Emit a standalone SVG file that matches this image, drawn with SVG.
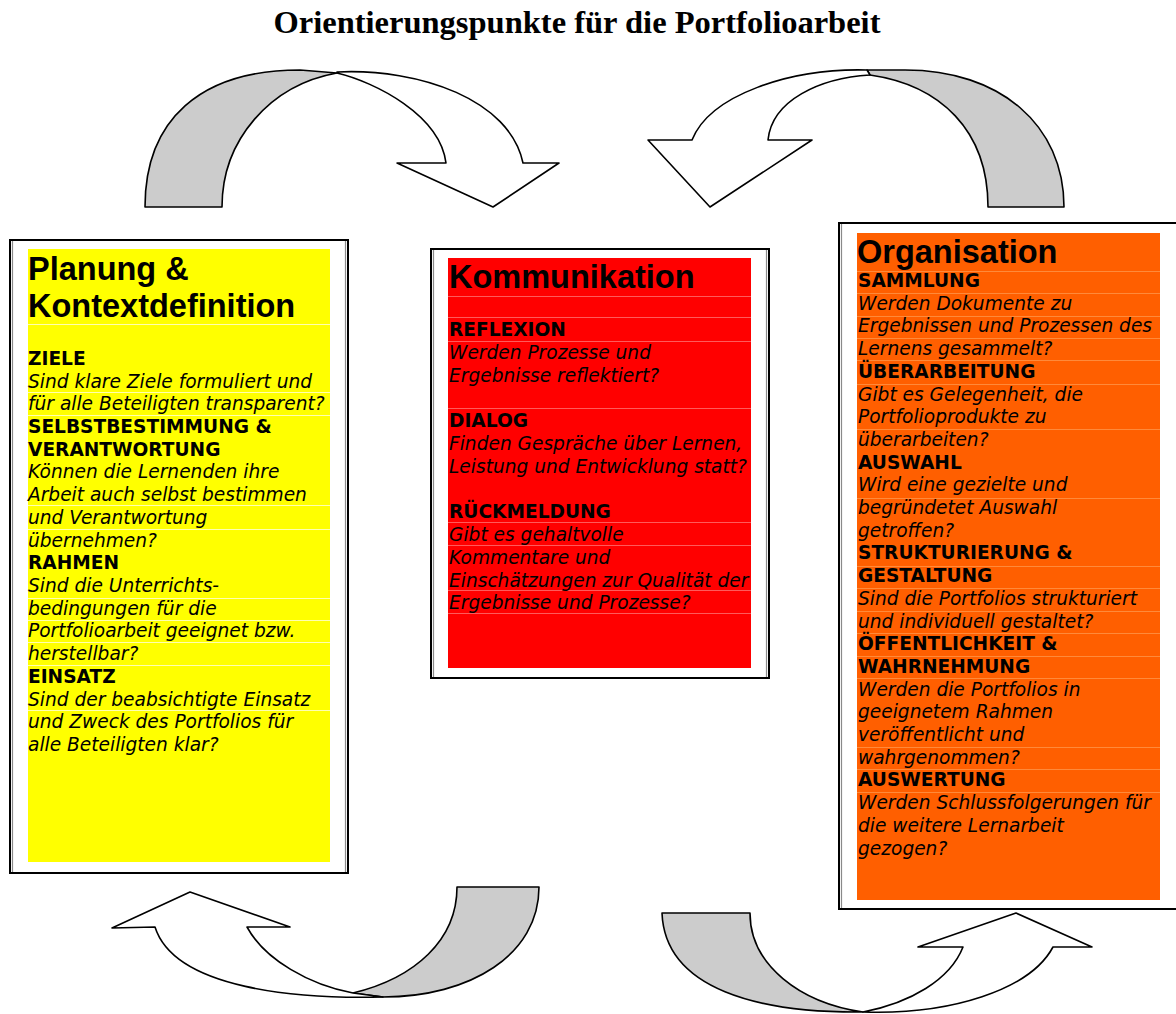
<svg xmlns="http://www.w3.org/2000/svg" width="1176" height="1014" viewBox="0 0 1176 1014">
<style>
.frame{fill:#fff;stroke:#000;stroke-width:2}
.edge{stroke:#8a8a8a;stroke-width:1.2}
.back{fill:#cccccc;stroke:#000;stroke-width:1.6;stroke-linejoin:round}
.front{fill:#fff;stroke:#000;stroke-width:1.6;stroke-linejoin:round}
.ttl{font-family:"Liberation Sans",Arial,sans-serif;font-weight:bold;font-size:32.5px;fill:#000}
.hd{font-family:"DejaVu Sans",Verdana,sans-serif;font-weight:bold;font-size:18.6px;fill:#000}
.q{font-family:"DejaVu Sans",Verdana,sans-serif;font-style:italic;font-size:18.6px;fill:#000}
.rowy{stroke:#ffffb0;stroke-width:1}
.rowr{stroke:#ff5a5a;stroke-width:1}
.rowo{stroke:#ff8a3a;stroke-width:1}
</style>
<rect width="1176" height="1014" fill="#fff"/>
<text x="577" y="33" text-anchor="middle" font-family="'Liberation Serif','Times New Roman',serif" font-weight="bold" font-size="32.5">Orientierungspunkte für die Portfolioarbeit</text>

<g id="connectors">
  <g id="arrow-top-left">
    <path class="back" d="M145,207 C145,120 200,70 300,70 L337,73 C270,85 222,140 222,207 Z"/>
    <path class="front" d="M337,72 C420,68 510,100 523,163 L559,163 L493,207 L397,163 L446,163 C440,115 375,82 337,73 Z"/>
  </g>
  <g id="arrow-top-right">
    <path class="back" d="M1064,207 C1064,125 1000,70 905,70 L867,70 L870,75 C940,85 988,130 988,207 Z"/>
    <path class="front" d="M867,70 C790,68 710,95 692,140 L648,140 L710,207 L812,140 L768,140 C772,100 820,78 870,75 Z"/>
  </g>
  <g id="arrow-bottom-left">
    <path class="back" d="M457,887 L539,887 C539,955 470,997 383,997 L353,993 C415,978 457,940 457,887 Z"/>
    <path class="front" d="M383,997 C300,999 175,990 155,927 L112,928 L190,892 L290,927 L247,927 C265,960 310,985 353,993 Z"/>
  </g>
  <g id="arrow-bottom-right">
    <path class="back" d="M662,913 L750,913 C750,965 800,1003 863,1012 C760,1013 665,990 662,913 Z"/>
    <path class="front" d="M863,1012 C950,1015 1030,990 1053,947 L1092,947 L1016,913 L918,947 L963,947 C950,980 910,1003 863,1012 Z"/>
  </g>
</g>

<g id="node-planung">
  <rect class="frame" x="10" y="240" width="338" height="633"/>
  <line class="edge" x1="12.5" y1="241" x2="12.5" y2="872"/>
  <line class="edge" x1="345.5" y1="241" x2="345.5" y2="872"/>
  <rect x="28" y="249" width="302" height="613" fill="#ffff00"/>
  <g class="rowy">
    <line x1="28" y1="324.5" x2="330" y2="324.5"/>
    <line x1="28" y1="392.5" x2="330" y2="392.5"/>
    <line x1="28" y1="415.5" x2="330" y2="415.5"/>
    <line x1="28" y1="505.5" x2="330" y2="505.5"/>
    <line x1="28" y1="529.5" x2="330" y2="529.5"/>
    <line x1="28" y1="598.5" x2="330" y2="598.5"/>
    <line x1="28" y1="620.5" x2="330" y2="620.5"/>
    <line x1="28" y1="642.5" x2="330" y2="642.5"/>
    <line x1="28" y1="665.5" x2="330" y2="665.5"/>
    <line x1="28" y1="710.5" x2="330" y2="710.5"/>
  </g>
  <text class="ttl" x="28" y="280">Planung &amp;</text>
  <text class="ttl" x="28" y="317">Kontextdefinition</text>
  <text class="hd" x="28" y="365">ZIELE</text>
  <text class="q" x="28" y="388">Sind klare Ziele formuliert und</text>
  <text class="q" x="28" y="410">für alle Beteiligten transparent?</text>
  <text class="hd" x="28" y="433">SELBSTBESTIMMUNG &amp;</text>
  <text class="hd" x="28" y="456">VERANTWORTUNG</text>
  <text class="q" x="28" y="478">Können die Lernenden ihre</text>
  <text class="q" x="28" y="501">Arbeit auch selbst bestimmen</text>
  <text class="q" x="28" y="524">und Verantwortung</text>
  <text class="q" x="28" y="547">übernehmen?</text>
  <text class="hd" x="28" y="569">RAHMEN</text>
  <text class="q" x="28" y="592">Sind die Unterrichts-</text>
  <text class="q" x="28" y="615">bedingungen für die</text>
  <text class="q" x="28" y="637">Portfolioarbeit geeignet bzw.</text>
  <text class="q" x="28" y="660">herstellbar?</text>
  <text class="hd" x="28" y="683">EINSATZ</text>
  <text class="q" x="28" y="706">Sind der beabsichtigte Einsatz</text>
  <text class="q" x="28" y="728">und Zweck des Portfolios für</text>
  <text class="q" x="28" y="751">alle Beteiligten klar?</text>
</g>

<g id="node-kommunikation">
  <rect class="frame" x="431" y="249" width="338" height="429"/>
  <line class="edge" x1="433.5" y1="250" x2="433.5" y2="677"/>
  <line class="edge" x1="766.5" y1="250" x2="766.5" y2="677"/>
  <rect x="448" y="258" width="303" height="410" fill="#ff0000"/>
  <g class="rowr">
    <line x1="448" y1="296.5" x2="751" y2="296.5"/>
    <line x1="448" y1="317.5" x2="751" y2="317.5"/>
    <line x1="448" y1="341.5" x2="751" y2="341.5"/>
    <line x1="448" y1="408.5" x2="751" y2="408.5"/>
    <line x1="448" y1="522.5" x2="751" y2="522.5"/>
    <line x1="448" y1="545.5" x2="751" y2="545.5"/>
    <line x1="448" y1="590.5" x2="751" y2="590.5"/>
    <line x1="448" y1="613.5" x2="751" y2="613.5"/>
  </g>
  <text class="ttl" x="449" y="288">Kommunikation</text>
  <text class="hd" x="449" y="336">REFLEXION</text>
  <text class="q" x="449" y="359">Werden Prozesse und</text>
  <text class="q" x="449" y="382">Ergebnisse reflektiert?</text>
  <text class="hd" x="449" y="427">DIALOG</text>
  <text class="q" x="449" y="450">Finden Gespräche über Lernen,</text>
  <text class="q" x="449" y="473">Leistung und Entwicklung statt?</text>
  <text class="hd" x="449" y="518">RÜCKMELDUNG</text>
  <text class="q" x="449" y="541">Gibt es gehaltvolle</text>
  <text class="q" x="449" y="564">Kommentare und</text>
  <text class="q" x="449" y="587">Einschätzungen zur Qualität der</text>
  <text class="q" x="449" y="609">Ergebnisse und Prozesse?</text>
</g>

<g id="node-organisation">
  <rect class="frame" x="839" y="223" width="340" height="686"/>
  <line class="edge" x1="841.5" y1="224" x2="841.5" y2="908"/>
  <rect x="857" y="233" width="303" height="667" fill="#ff5f00"/>
  <g class="rowo">
    <line x1="857" y1="271.5" x2="1160" y2="271.5"/>
    <line x1="857" y1="293.5" x2="1160" y2="293.5"/>
    <line x1="857" y1="316.5" x2="1160" y2="316.5"/>
    <line x1="857" y1="338.5" x2="1160" y2="338.5"/>
    <line x1="857" y1="360.5" x2="1160" y2="360.5"/>
    <line x1="857" y1="384.5" x2="1160" y2="384.5"/>
    <line x1="857" y1="429.5" x2="1160" y2="429.5"/>
    <line x1="857" y1="498.5" x2="1160" y2="498.5"/>
    <line x1="857" y1="566.5" x2="1160" y2="566.5"/>
    <line x1="857" y1="588.5" x2="1160" y2="588.5"/>
    <line x1="857" y1="611.5" x2="1160" y2="611.5"/>
    <line x1="857" y1="633.5" x2="1160" y2="633.5"/>
    <line x1="857" y1="656.5" x2="1160" y2="656.5"/>
    <line x1="857" y1="678.5" x2="1160" y2="678.5"/>
    <line x1="857" y1="747.5" x2="1160" y2="747.5"/>
    <line x1="857" y1="769.5" x2="1160" y2="769.5"/>
    <line x1="857" y1="792.5" x2="1160" y2="792.5"/>
  </g>
  <text class="ttl" x="857" y="263">Organisation</text>
  <text class="hd" x="858" y="287">SAMMLUNG</text>
  <text class="q" x="858" y="310">Werden Dokumente zu</text>
  <text class="q" x="858" y="332">Ergebnissen und Prozessen des</text>
  <text class="q" x="858" y="355">Lernens gesammelt?</text>
  <text class="hd" x="858" y="378">ÜBERARBEITUNG</text>
  <text class="q" x="858" y="401">Gibt es Gelegenheit, die</text>
  <text class="q" x="858" y="423">Portfolioprodukte zu</text>
  <text class="q" x="858" y="446">überarbeiten?</text>
  <text class="hd" x="858" y="469">AUSWAHL</text>
  <text class="q" x="858" y="491">Wird eine gezielte und</text>
  <text class="q" x="858" y="514">begründetet Auswahl</text>
  <text class="q" x="858" y="537">getroffen?</text>
  <text class="hd" x="858" y="559">STRUKTURIERUNG &amp;</text>
  <text class="hd" x="858" y="582">GESTALTUNG</text>
  <text class="q" x="858" y="605">Sind die Portfolios strukturiert</text>
  <text class="q" x="858" y="628">und individuell gestaltet?</text>
  <text class="hd" x="858" y="650">ÖFFENTLICHKEIT &amp;</text>
  <text class="hd" x="858" y="673">WAHRNEHMUNG</text>
  <text class="q" x="858" y="696">Werden die Portfolios in</text>
  <text class="q" x="858" y="718">geeignetem Rahmen</text>
  <text class="q" x="858" y="741">veröffentlicht und</text>
  <text class="q" x="858" y="764">wahrgenommen?</text>
  <text class="hd" x="858" y="786">AUSWERTUNG</text>
  <text class="q" x="858" y="809">Werden Schlussfolgerungen für</text>
  <text class="q" x="858" y="832">die weitere Lernarbeit</text>
  <text class="q" x="858" y="855">gezogen?</text>
</g>
</svg>
